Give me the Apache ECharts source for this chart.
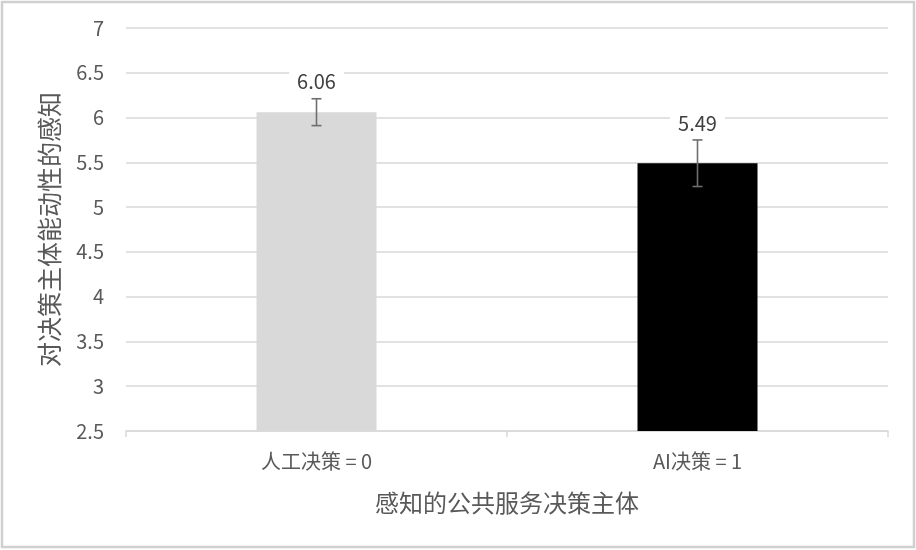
<!DOCTYPE html>
<html>
<head>
<meta charset="utf-8">
<script src="https://cdn.jsdelivr.net/npm/echarts@6/dist/echarts.min.js"></script>
<style>
html,body{margin:0;padding:0;background:#fff;}
#main{width:916px;height:550px;}
</style>
</head>
<body>
<div id="main"></div>
<script>
const categories = ['人工决策 = 0', 'AI决策 = 1'];
const means = [6.06, 5.49];
const errors = [0.15, 0.26];
const barColors = ['#d9d9d9', '#000000'];
const yTicks = [2.5, 3, 3.5, 4, 4.5, 5, 5.5, 6, 6.5, 7];
const yAxisTitle = '对决策主体能动性的感知';
const xAxisTitle = '感知的公共服务决策主体';

const FONT = '"Noto Sans CJK SC", "Noto Sans", sans-serif';
const chart = echarts.init(document.getElementById('main'), null, {renderer: 'canvas'});

const errData = means.map((m, i) => [i, m, errors[i]]);

chart.setOption({
  backgroundColor: '#ffffff',
  animation: false,
  graphic: [{
    type: 'rect',
    shape: {x: 2, y: 2, width: 912, height: 545},
    style: {fill: 'none', stroke: '#d0d0d0', lineWidth: 2.5},
    silent: true
  }],
  grid: {left: 126, right: 28, top: 28, bottom: 119},
  xAxis: {
    type: 'category',
    data: categories,
    name: xAxisTitle,
    nameLocation: 'middle',
    nameGap: 60,
    nameTextStyle: {fontFamily: FONT, fontSize: 24, color: '#595959'},
    axisLine: {lineStyle: {color: '#d9d9d9', width: 1.5}},
    axisTick: {show: true, alignWithLabel: false, length: 6, lineStyle: {color: '#d9d9d9', width: 1.5}},
    axisLabel: {fontFamily: FONT, fontSize: 20, color: '#595959', margin: 20}
  },
  yAxis: {
    type: 'value',
    min: yTicks[0],
    max: yTicks[yTicks.length - 1],
    interval: 0.5,
    name: yAxisTitle,
    nameLocation: 'middle',
    nameGap: 64,
    nameRotate: 90,
    nameTextStyle: {fontFamily: FONT, fontSize: 25, color: '#595959'},
    axisLine: {show: false},
    axisTick: {show: false},
    axisLabel: {fontFamily: FONT, fontSize: 20, color: '#595959', margin: 22,
      formatter: v => String(v)},
    splitLine: {lineStyle: {color: '#d9d9d9', width: 1.5}}
  },
  series: [
    {
      type: 'bar',
      barWidth: 120,
      data: means.map((m, i) => ({value: m, itemStyle: {color: barColors[i]}})),
      z: 2
    },
    {
      type: 'custom',
      data: errData,
      z: 5,
      renderItem: function (params, api) {
        const x = api.value(0);
        const m = api.value(1);
        const e = api.value(2);
        const hi = api.coord([x, m + e]);
        const lo = api.coord([x, m - e]);
        const cap = 5;
        const st = {stroke: '#6e6e6e', lineWidth: 1.6};
        return {
          type: 'group',
          children: [
            {type: 'line', shape: {x1: hi[0], y1: hi[1], x2: lo[0], y2: lo[1]}, style: st},
            {type: 'line', shape: {x1: hi[0] - cap, y1: hi[1], x2: hi[0] + cap, y2: hi[1]}, style: st},
            {type: 'line', shape: {x1: lo[0] - cap, y1: lo[1], x2: lo[0] + cap, y2: lo[1]}, style: st},
            {type: 'text', x: hi[0], y: hi[1] - 7,
              style: {text: m.toFixed(2), fontFamily: FONT, fontSize: 20, fill: '#404040',
                align: 'center', verticalAlign: 'bottom',
                backgroundColor: '#ffffff', padding: [2, 8, 0, 8]}}
          ]
        };
      }
    }
  ]
});
</script>
</body>
</html>
